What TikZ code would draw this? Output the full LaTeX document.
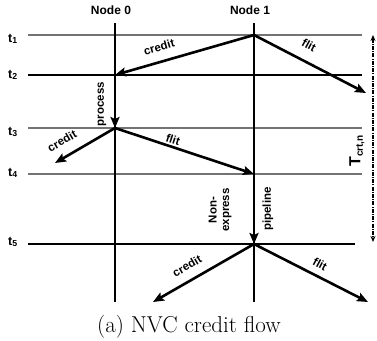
\documentclass[tikz,border=0pt]{standalone}
\usepackage{fontspec}
\newfontfamily\lsans{Liberation Sans}
\usetikzlibrary{arrows.meta}
\begin{document}
\begin{tikzpicture}[x=1pt,y=-1pt,
  lbl/.style={font=\lsans\bfseries\fontsize{11.5}{12.5}\selectfont, inner sep=0pt},
  hdr/.style={font=\lsans\bfseries\fontsize{12}{13}\selectfont, inner sep=0pt},
  tlbl/.style={font=\lsans\bfseries\fontsize{12.5}{13}\selectfont, inner sep=0pt, anchor=base west},
  msg/.style={line width=2.6pt, -{Stealth[length=11pt,width=9pt,inset=2pt]}},
  timeline/.style={line width=1.2pt, black},
  softline/.style={line width=1.2pt, black!55},
  hardline/.style={line width=1.5pt, black},
  span/.style={line width=1.6pt, dash pattern=on 4pt off 1.2pt on 1pt off 1.2pt,
    {Stealth[length=6pt,width=5pt]}-{Stealth[length=6pt,width=5pt]}}
]
\useasboundingbox (0,0) rectangle (377,340);

% node headers
\node[hdr] (n0) at (111,10) {Node 0};
\node[hdr] (n1) at (250,10) {Node 1};

% time lines
\coordinate (L1) at (28,35);  \coordinate (R1) at (362,35);
\coordinate (L2) at (28,75);  \coordinate (R2) at (362,75);
\coordinate (L3) at (28,128); \coordinate (R3) at (362,128);
\coordinate (L4) at (28,174); \coordinate (R4) at (362,174);
\coordinate (L5) at (28,244); \coordinate (R5) at (355,244);
\draw[softline] (L1) -- (R1);
\draw[hardline] (L2) -- (R2);
\draw[softline] (L3) -- (R3);
\draw[softline] (L4) -- (R4);
\draw[hardline] (L5) -- (R5);

\node[tlbl] (t1) at (8,42) {t\textsubscript{1}};
\node[tlbl] (t2) at (8,78) {t\textsubscript{2}};
\node[tlbl] (t3) at (8,135) {t\textsubscript{3}};
\node[tlbl] (t4) at (8,176) {t\textsubscript{4}};
\node[tlbl] (t5) at (8,245) {t\textsubscript{5}};

% node vertical lines
\coordinate (v0t) at (115,23); \coordinate (v0b) at (115,302);
\coordinate (v1t) at (254,23); \coordinate (v1b) at (254,302);
\draw[timeline] (v0t) -- (v0b);
\draw[timeline] (v1t) -- (v1b);

% events
\coordinate (a1) at (254,35);
\coordinate (a2) at (115,75);
\coordinate (a3) at (115,128);
\coordinate (a4) at (254,174);
\coordinate (a5) at (254,244);
\coordinate (f1) at (366,93);
\coordinate (c3) at (55,163);
\coordinate (c5) at (153,302);
\coordinate (f5) at (368,302);

\draw[msg] (a1) -- (a2);
\draw[msg] (a1) -- (f1);
\draw[msg] (a2) -- (a3);
\draw[msg] (a3) -- (c3);
\draw[msg] (a3) -- (a4);
\draw[msg] (a4) -- (a5);
\draw[msg] (a5) -- (c5);
\draw[msg] (a5) -- (f5);

% labels
\node[lbl, rotate=16] (lc1) at (159,47) {credit};
\node[lbl, rotate=-28] (lf1) at (309,45) {flit};
\node[lbl, rotate=90] (lp) at (102,104) {process};
\node[lbl, rotate=30] (lc3) at (62,141) {credit};
\node[lbl, rotate=-18] (lf3) at (173,140) {flit};
\node[lbl, rotate=90, align=center] (lne) at (220,210) {Non-\\express};
\node[lbl, rotate=90] (lpl) at (268,209) {pipeline};
\node[lbl, rotate=30] (lc5) at (187,266) {credit};
\node[lbl, rotate=-28] (lf5) at (320,264) {flit};

% T_crt,n
\coordinate (s1) at (373,35);
\coordinate (s2) at (373,242);
\draw[span] (s1) -- (s2);
\node[inner sep=0pt, rotate=90, font=\lsans\bfseries] (tc) at (357,151)
  {{\fontsize{16}{16}\selectfont T}\raisebox{-2.5pt}{\fontsize{10}{10}\selectfont crt,n}};

% caption
\node[inner sep=0pt, font=\fontsize{23}{26}\selectfont] (cap) at (189,327) {(a) NVC credit flow};
\end{tikzpicture}
\end{document}
